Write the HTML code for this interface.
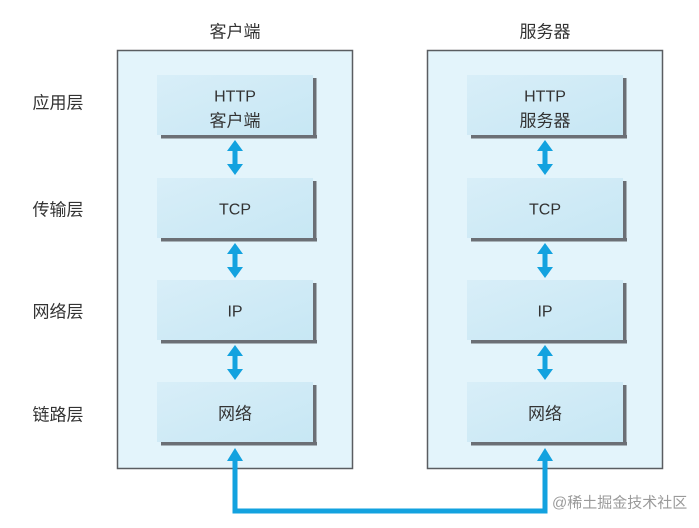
<!DOCTYPE html>
<html>
<head>
<meta charset="utf-8">
<style>
  html,body{margin:0;padding:0;background:#fff;}
  svg{display:block;}
  text{font-family:"Liberation Sans","Noto Sans CJK SC",sans-serif;}
</style>
</head>
<body>
<svg width="699" height="528" viewBox="0 0 699 528" xmlns="http://www.w3.org/2000/svg">
  <defs>
    <linearGradient id="g" x1="0" y1="0" x2="1" y2="1">
      <stop offset="0" stop-color="#d8eef8"/>
      <stop offset="1" stop-color="#c7e7f4"/>
    </linearGradient>
  </defs>
  <rect x="0" y="0" width="699" height="528" fill="#ffffff"/>

  <!-- titles -->
  <text x="235" y="32" font-size="17" fill="#333" text-anchor="middle" dominant-baseline="central">客户端</text>
  <text x="545" y="32" font-size="17" fill="#333" text-anchor="middle" dominant-baseline="central">服务器</text>

  <!-- left labels -->
  <text x="58" y="103" font-size="17" fill="#333" text-anchor="middle" dominant-baseline="central">应用层</text>
  <text x="58" y="210" font-size="17" fill="#333" text-anchor="middle" dominant-baseline="central">传输层</text>
  <text x="58" y="312" font-size="17" fill="#333" text-anchor="middle" dominant-baseline="central">网络层</text>
  <text x="58" y="415" font-size="17" fill="#333" text-anchor="middle" dominant-baseline="central">链路层</text>

  <!-- outer boxes -->
  <rect x="117.5" y="50.5" width="235" height="418" fill="#e3f4fb" stroke="#5a5d61" stroke-width="1.5"/>
  <rect x="427.5" y="50.5" width="235" height="418" fill="#e3f4fb" stroke="#5a5d61" stroke-width="1.5"/>

  <!-- client inner boxes -->
  <g>
    <rect x="161" y="135" width="156" height="3.5" fill="#6b6f75"/>
    <rect x="313" y="78" width="3.5" height="60.5" fill="#6b6f75"/>
    <rect x="157" y="75" width="156" height="60" fill="url(#g)"/>

    <rect x="161" y="238" width="156" height="3.5" fill="#6b6f75"/>
    <rect x="313" y="181" width="3.5" height="60.5" fill="#6b6f75"/>
    <rect x="157" y="178" width="156" height="60" fill="url(#g)"/>

    <rect x="161" y="340" width="156" height="3.5" fill="#6b6f75"/>
    <rect x="313" y="283" width="3.5" height="60.5" fill="#6b6f75"/>
    <rect x="157" y="280" width="156" height="60" fill="url(#g)"/>

    <rect x="161" y="442" width="156" height="3.5" fill="#6b6f75"/>
    <rect x="313" y="385" width="3.5" height="60.5" fill="#6b6f75"/>
    <rect x="157" y="382" width="156" height="60" fill="url(#g)"/>
  </g>

  <!-- server inner boxes -->
  <g>
    <rect x="471" y="135" width="156" height="3.5" fill="#6b6f75"/>
    <rect x="623" y="78" width="3.5" height="60.5" fill="#6b6f75"/>
    <rect x="467" y="75" width="156" height="60" fill="url(#g)"/>

    <rect x="471" y="238" width="156" height="3.5" fill="#6b6f75"/>
    <rect x="623" y="181" width="3.5" height="60.5" fill="#6b6f75"/>
    <rect x="467" y="178" width="156" height="60" fill="url(#g)"/>

    <rect x="471" y="340" width="156" height="3.5" fill="#6b6f75"/>
    <rect x="623" y="283" width="3.5" height="60.5" fill="#6b6f75"/>
    <rect x="467" y="280" width="156" height="60" fill="url(#g)"/>

    <rect x="471" y="442" width="156" height="3.5" fill="#6b6f75"/>
    <rect x="623" y="385" width="3.5" height="60.5" fill="#6b6f75"/>
    <rect x="467" y="382" width="156" height="60" fill="url(#g)"/>
  </g>

  <!-- box texts -->
  <g font-size="16" fill="#333" text-anchor="middle" dominant-baseline="central">
    <text x="235" y="97">HTTP</text>
    <text x="235" y="121" font-size="17">客户端</text>
    <text x="235" y="210">TCP</text>
    <text x="235" y="312">IP</text>
    <text x="235" y="414" font-size="17">网络</text>

    <text x="545" y="97">HTTP</text>
    <text x="545" y="121" font-size="17">服务器</text>
    <text x="545" y="210">TCP</text>
    <text x="545" y="312">IP</text>
    <text x="545" y="414" font-size="17">网络</text>
  </g>

  <!-- double arrows -->
  <g fill="#13a2df">
    <polygon points="235,140 243,151 237.5,151 237.5,164 243,164 235,175 227,164 232.5,164 232.5,151 227,151"/>
    <polygon points="235,243 243,254 237.5,254 237.5,267 243,267 235,278 227,267 232.5,267 232.5,254 227,254"/>
    <polygon points="235,345 243,356 237.5,356 237.5,369 243,369 235,380 227,369 232.5,369 232.5,356 227,356"/>

    <polygon points="545,140 553,151 547.5,151 547.5,164 553,164 545,175 537,164 542.5,164 542.5,151 537,151"/>
    <polygon points="545,243 553,254 547.5,254 547.5,267 553,267 545,278 537,267 542.5,267 542.5,254 537,254"/>
    <polygon points="545,345 553,356 547.5,356 547.5,369 553,369 545,380 537,369 542.5,369 542.5,356 537,356"/>

    <!-- bottom connector arrowheads -->
    <polygon points="235,448 243,461 227,461"/>
    <polygon points="545,448 553,461 537,461"/>
  </g>
  <polyline points="235,459 235,511 545,511 545,459" fill="none" stroke="#13a2df" stroke-width="5" stroke-linejoin="miter"/>

  <!-- watermark -->
  <text x="552" y="503" font-size="15" fill="#9a9a9a" dominant-baseline="central" stroke="#ffffff" stroke-width="3" paint-order="stroke">@稀土掘金技术社区</text>
</svg>
</body>
</html>
